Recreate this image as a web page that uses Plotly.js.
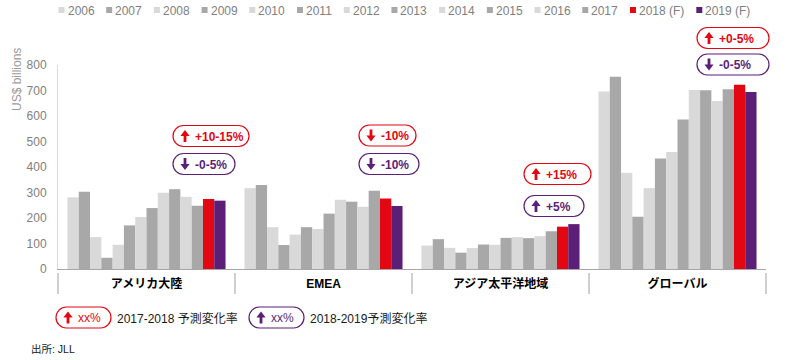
<!DOCTYPE html>
<html><head><meta charset="utf-8">
<script src="https://cdn.plot.ly/plotly-3.0.1.min.js"></script>
<style>html,body{margin:0;padding:0;background:#fff}#chart{width:800px;height:360px}</style>
</head><body><div id="chart"></div>
<script>
// ---- data ----
const regions = ['アメリカ大陸', 'EMEA', 'アジア太平洋地域', 'グローバル'];
const years = ['2006','2007','2008','2009','2010','2011','2012','2013','2014','2015','2016','2017','2018 (F)','2019 (F)'];
const v2006 = [281, 317, 92, 696];
const v2007 = [303, 329, 117, 754];
const v2008 = [125, 164, 83, 377];
const v2009 = [44, 94, 64, 205];
const v2010 = [95, 135, 82, 317];
const v2011 = [171, 164, 96, 433];
const v2012 = [204, 157, 95, 459];
const v2013 = [239, 217, 122, 586];
const v2014 = [299, 272, 125, 702];
const v2015 = [313, 264, 121, 701];
const v2016 = [283, 244, 129, 659];
const v2017 = [248, 307, 148, 705];
const v2018F = [275, 276, 166, 723];
const v2019F = [268, 247, 176, 694];
const seriesValues = [v2006,v2007,v2008,v2009,v2010,v2011,v2012,v2013,v2014,v2015,v2016,v2017,v2018F,v2019F];
const change1718 = ['+10-15%', '-10%', '+15%', '+0-5%'];
const dir1718 = ['up', 'down', 'up', 'up'];
const change1819 = ['-0-5%', '-10%', '+5%', '-0-5%'];
const dir1819 = ['down', 'down', 'up', 'down'];
const yTicks = [0,100,200,300,400,500,600,700,800];
const yTitle = 'US$ billions';
const key1718 = '2017-2018 予測変化率';
const key1819 = '2018-2019予測変化率';
const sourceText = '出所: JLL';

// ---- styles / layout ----
const LIGHT = '#d9d9d9', DARK = '#a8a8a8', RED = '#e30613', PURPLE = '#5b1f78';
const colors = [LIGHT,DARK,LIGHT,DARK,LIGHT,DARK,LIGHT,DARK,LIGHT,DARK,LIGHT,DARK,RED,PURPLE];
const FONT = '"Liberation Sans", Arial, "Noto Sans CJK JP", sans-serif';
const W = 800, H = 360, L = 58, R = 34, T = 65, B = 91;
const PW = W - L - R, PH = H - T - B;
const px2x = px => (px - L) / PW;
const py2y = py => (H - B - py) / PH;

const canvas = document.createElement('canvas');
const ctx = canvas.getContext('2d');
function textW(s, size, weight) {
  ctx.font = (weight || 'normal') + ' ' + size + 'px "Liberation Sans", Arial, "Noto Sans CJK JP", sans-serif';
  return ctx.measureText(s).width;
}

const traces = years.map((yr, i) => ({
  type: 'bar', x: regions, y: seriesValues[i], name: yr,
  marker: {color: colors[i], line: {width: 0}}, showlegend: false, hoverinfo: 'skip'
}));

const shapes = [], annotations = [];

// custom top legend
let lx = 58.5;
years.forEach((yr, i) => {
  shapes.push({type: 'rect', xref: 'paper', yref: 'paper',
    x0: px2x(lx), x1: px2x(lx + 6), y0: py2y(13), y1: py2y(7),
    fillcolor: colors[i], line: {width: 0}});
  annotations.push({xref: 'paper', yref: 'paper', x: px2x(lx + 7), y: py2y(10.5),
    xanchor: 'left', yanchor: 'middle', text: yr, showarrow: false,
    font: {size: 12, color: '#808080', family: FONT}});
  lx += 8 + textW(yr, 12) + 13;
});

// y title
annotations.push({xref: 'paper', yref: 'paper', x: px2x(17), y: py2y(80),
  xanchor: 'center', yanchor: 'middle', textangle: -90, text: yTitle, showarrow: false,
  font: {size: 12, color: '#9a9a9a', family: FONT}});

// group separators below axis
for (let i = 0; i <= regions.length; i++) {
  shapes.push({type: 'line', xref: 'paper', yref: 'paper',
    x0: i / regions.length, x1: i / regions.length, y0: py2y(273), y1: py2y(294),
    line: {color: '#a0a0a0', width: 1}});
}

function pillPath(w, h) {
  const r = h / 2, k = 0.5523 * r, hh = h / 2;
  return `M${r},${-hh} L${w - r},${-hh} C${w - r + k},${-hh} ${w},${-k} ${w},0 ` +
         `C${w},${k} ${w - r + k},${hh} ${w - r},${hh} L${r},${hh} ` +
         `C${r - k},${hh} 0,${k} 0,0 C0,${-k} ${r - k},${-hh} ${r},${-hh} Z`;
}
function arrowPath(dir) {
  const s = dir === 'up' ? 1 : -1;
  const p = [[-1.4,-6],[1.4,-6],[1.4,0],[4.6,0],[0,6],[-4.6,0],[-1.4,0]];
  return 'M' + p.map(q => q[0] + ',' + (q[1] * s)).join(' L') + ' Z';
}
function pill(leftPx, cyPx, w, color, dir, label, bold) {
  const h = 21;
  shapes.push({type: 'path', xref: 'paper', yref: 'paper', xsizemode: 'pixel', ysizemode: 'pixel',
    xanchor: px2x(leftPx), yanchor: py2y(cyPx), path: pillPath(w, h),
    fillcolor: '#ffffff', line: {color: color, width: 1.2}});
  shapes.push({type: 'path', xref: 'paper', yref: 'paper', xsizemode: 'pixel', ysizemode: 'pixel',
    xanchor: px2x(leftPx + 12), yanchor: py2y(cyPx), path: arrowPath(dir),
    fillcolor: color, line: {width: 0}});
  annotations.push({xref: 'paper', yref: 'paper', x: px2x(leftPx + 19.5), y: py2y(cyPx + 0.5),
    xanchor: 'left', yanchor: 'middle', text: label, showarrow: false,
    font: {size: 12, color: color, family: FONT, weight: bold ? 700 : 400}});
}

// per-group change pills (layout positions in px)
const pillLeftOffset = [26.5, 35.5, 23.5, 19.5];
const pillCy = [[136, 164], [135.5, 164], [174, 206], [38, 64.5]];
const pillW = [[76, 62], [57, 60], [67, 60], [72, 72]];
regions.forEach((g, i) => {
  const center = L + PW * (i + 0.5) / regions.length;
  pill(center + pillLeftOffset[i], pillCy[i][0], pillW[i][0], RED, dir1718[i], change1718[i], true);
  pill(center + pillLeftOffset[i], pillCy[i][1], pillW[i][1], PURPLE, dir1819[i], change1819[i], true);
});

// bottom key
pill(56, 317.5, 55, RED, 'up', 'xx%', false);
annotations.push({xref: 'paper', yref: 'paper', x: px2x(115), y: py2y(318.5), xanchor: 'left', yanchor: 'middle',
  text: key1718, showarrow: false, font: {size: 12, color: '#1a1a1a', family: FONT}});
pill(249, 317.5, 55, PURPLE, 'up', 'xx%', false);
annotations.push({xref: 'paper', yref: 'paper', x: px2x(308), y: py2y(318.5), xanchor: 'left', yanchor: 'middle',
  text: key1819, showarrow: false, font: {size: 12, color: '#1a1a1a', family: FONT}});
annotations.push({xref: 'paper', yref: 'paper', x: px2x(29), y: py2y(349), xanchor: 'left', yanchor: 'middle',
  text: sourceText, showarrow: false, font: {size: 10.5, color: '#1a1a1a', family: FONT}});

const layout = {
  width: W, height: H,
  margin: {l: L, r: R, t: T, b: B, pad: 0},
  paper_bgcolor: '#ffffff', plot_bgcolor: '#ffffff',
  font: {family: FONT},
  barmode: 'group', bargap: 0.107, bargroupgap: 0,
  showlegend: false,
  xaxis: {type: 'category', showgrid: false, zeroline: false, showline: true,
    linecolor: '#a6a6a6', linewidth: 1, ticks: '', ticklabelstandoff: 4,
    tickfont: {size: 12, color: '#000000', family: FONT, weight: 700}, fixedrange: true},
  yaxis: {range: [0, 800], tickvals: yTicks, showgrid: false, zeroline: false,
    showline: true, linecolor: '#d9d9d9', linewidth: 1, ticks: '', ticklabelstandoff: 8,
    tickfont: {size: 12, color: '#808080', family: FONT}, fixedrange: true},
  shapes: shapes, annotations: annotations
};
Plotly.newPlot('chart', traces, layout, {staticPlot: true, displayModeBar: false});
</script></body></html>
